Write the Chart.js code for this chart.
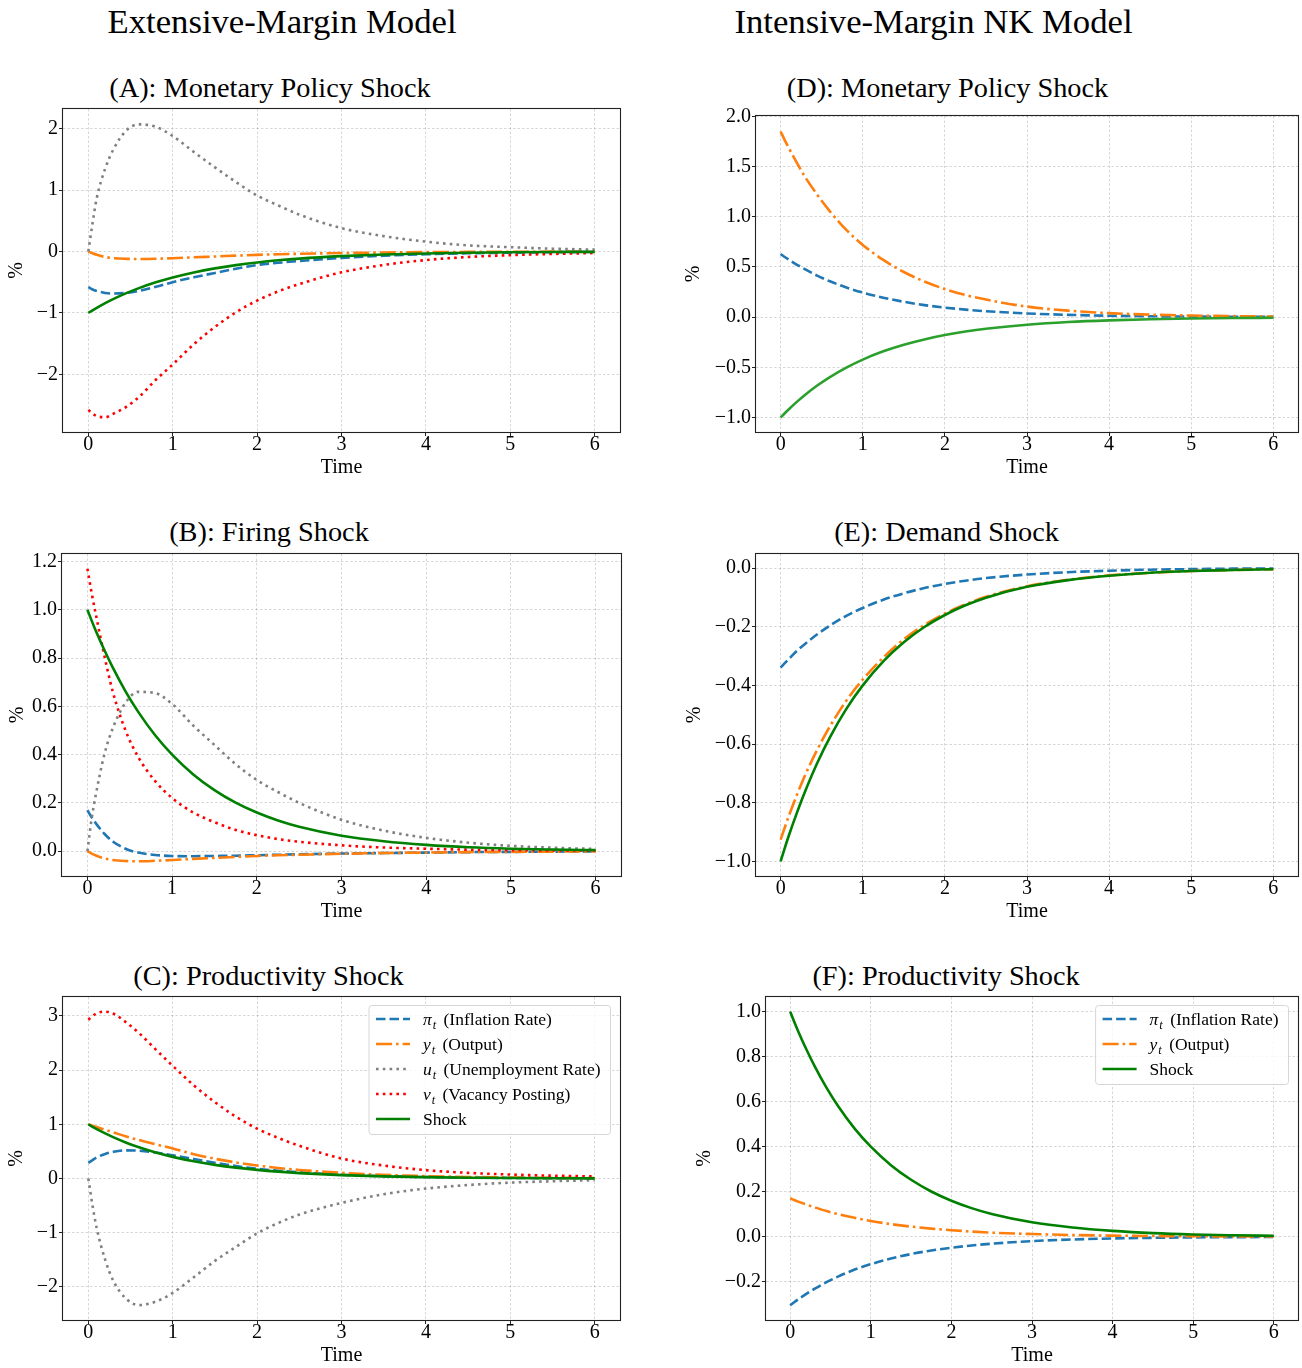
<!DOCTYPE html>
<html>
<head>
<meta charset="utf-8">
<title>Impulse responses</title>
<script src="https://cdn.jsdelivr.net/npm/chart.js@4.4.1/dist/chart.umd.min.js"></script>
<style>
  html, body { margin: 0; padding: 0; background: #fff; overflow: hidden; }
  #page { position: relative; width: 1302px; height: 1368px; }
  #page canvas { position: absolute; }
  #titles { position: absolute; left: 0; top: 0; }
  #titles text { font-family: "Liberation Serif", "Times New Roman", serif; fill: #000; }
</style>
</head>
<body>
<div id="page">
  <svg id="titles" width="1302" height="1368">
    <text x="282" y="33" font-size="34.7" text-anchor="middle">Extensive-Margin Model</text>
    <text x="933.5" y="33" font-size="34.7" text-anchor="middle">Intensive-Margin NK Model</text>
    <text x="270" y="97" font-size="28.3" text-anchor="middle">(A): Monetary Policy Shock</text>
    <text x="947.5" y="97" font-size="28.3" text-anchor="middle">(D): Monetary Policy Shock</text>
    <text x="269" y="541" font-size="28.3" text-anchor="middle">(B): Firing Shock</text>
    <text x="946.5" y="541" font-size="28.3" text-anchor="middle">(E): Demand Shock</text>
    <text x="268.5" y="985" font-size="28.3" text-anchor="middle">(C): Productivity Shock</text>
    <text x="946" y="985" font-size="28.3" text-anchor="middle">(F): Productivity Shock</text>
  </svg>
</div>
<script>
const timeGrid = [0, 0.05, 0.1, 0.2, 0.3, 0.45, 0.6, 0.8, 1, 1.25, 1.5, 1.75, 2, 2.25, 2.5, 3, 3.5, 4, 4.5, 5, 5.5, 6];

// (A) extensive margin, monetary policy shock
const monPiA    = [-0.58, -0.62, -0.645, -0.675, -0.685, -0.675, -0.64, -0.575, -0.50, -0.42, -0.35, -0.28, -0.22, -0.185, -0.155, -0.105, -0.07, -0.045, -0.03, -0.02, -0.012, -0.008];
const monYA     = [0, -0.03, -0.055, -0.09, -0.11, -0.12, -0.122, -0.118, -0.11, -0.095, -0.082, -0.068, -0.055, -0.046, -0.038, -0.026, -0.017, -0.011, -0.007, -0.005, -0.003, -0.002];
const monUA     = [0, 0.46, 0.87, 1.35, 1.67, 1.97, 2.07, 2.03, 1.88, 1.62, 1.37, 1.13, 0.91, 0.75, 0.60, 0.38, 0.25, 0.16, 0.10, 0.07, 0.045, 0.03];
const monVA     = [-2.58, -2.64, -2.68, -2.70, -2.64, -2.53, -2.37, -2.09, -1.84, -1.51, -1.23, -0.99, -0.80, -0.65, -0.53, -0.34, -0.22, -0.14, -0.09, -0.06, -0.04, -0.025];
const monShockA = [-1, -0.958, -0.918, -0.842, -0.773, -0.679, -0.597, -0.503, -0.423, -0.341, -0.275, -0.222, -0.179, -0.144, -0.116, -0.076, -0.049, -0.032, -0.021, -0.014, -0.009, -0.006];

// (B) extensive margin, firing shock
const firePiB    = [0.17, 0.14, 0.115, 0.072, 0.04, 0.01, -0.006, -0.016, -0.02, -0.021, -0.02, -0.019, -0.017, -0.015, -0.013, -0.01, -0.008, -0.006, -0.004, -0.003, -0.002, -0.001];
const fireYB     = [0, -0.01, -0.018, -0.03, -0.037, -0.041, -0.042, -0.04, -0.037, -0.032, -0.028, -0.024, -0.02, -0.017, -0.015, -0.011, -0.008, -0.006, -0.004, -0.003, -0.002, -0.001];
const fireUB     = [0, 0.135, 0.235, 0.40, 0.51, 0.615, 0.66, 0.655, 0.61, 0.52, 0.44, 0.36, 0.295, 0.245, 0.20, 0.13, 0.085, 0.055, 0.035, 0.022, 0.014, 0.009];
const fireVB     = [1.17, 1.07, 0.98, 0.81, 0.66, 0.50, 0.39, 0.29, 0.22, 0.16, 0.12, 0.088, 0.066, 0.05, 0.039, 0.024, 0.015, 0.01, 0.006, 0.004, 0.003, 0.002];
const fireShockB = [1, 0.955, 0.912, 0.833, 0.76, 0.662, 0.577, 0.48, 0.40, 0.318, 0.253, 0.201, 0.160, 0.127, 0.101, 0.064, 0.041, 0.026, 0.016, 0.010, 0.0065, 0.004];

// (C) extensive margin, productivity shock
const prodPiC    = [0.29, 0.34, 0.39, 0.455, 0.495, 0.52, 0.515, 0.48, 0.43, 0.36, 0.29, 0.23, 0.18, 0.145, 0.115, 0.07, 0.045, 0.028, 0.018, 0.011, 0.007, 0.005];
const prodYC     = [1.0, 0.975, 0.95, 0.9, 0.85, 0.775, 0.71, 0.63, 0.555, 0.45, 0.365, 0.297, 0.24, 0.195, 0.159, 0.105, 0.069, 0.045, 0.03, 0.02, 0.013, 0.008];
const prodUC     = [0, -0.5, -0.92, -1.5, -1.9, -2.22, -2.335, -2.27, -2.11, -1.82, -1.52, -1.26, -1.01, -0.82, -0.665, -0.45, -0.29, -0.185, -0.12, -0.075, -0.05, -0.03];
const prodVC     = [2.93, 3.0, 3.05, 3.08, 3.04, 2.88, 2.685, 2.38, 2.08, 1.72, 1.41, 1.14, 0.92, 0.75, 0.605, 0.37, 0.24, 0.155, 0.105, 0.074, 0.053, 0.04];
const prodShockC = [1, 0.955, 0.912, 0.833, 0.76, 0.662, 0.577, 0.48, 0.40, 0.318, 0.253, 0.201, 0.160, 0.127, 0.101, 0.064, 0.041, 0.026, 0.016, 0.010, 0.0065, 0.004];

// (D) NK model, monetary policy shock
const monPiD    = [0.63, 0.60, 0.573, 0.522, 0.475, 0.412, 0.357, 0.296, 0.245, 0.194, 0.153, 0.12, 0.095, 0.075, 0.059, 0.037, 0.023, 0.014, 0.009, 0.0056, 0.0035, 0.002];
const monYD     = [1.85, 1.765, 1.685, 1.535, 1.395, 1.215, 1.055, 0.87, 0.72, 0.57, 0.45, 0.355, 0.28, 0.22, 0.175, 0.105, 0.065, 0.04, 0.025, 0.016, 0.01, 0.006];
const monShockD = [-1, -0.958, -0.918, -0.842, -0.773, -0.679, -0.597, -0.503, -0.423, -0.341, -0.275, -0.222, -0.179, -0.144, -0.116, -0.076, -0.049, -0.032, -0.021, -0.014, -0.009, -0.006];

// (E) NK model, demand shock
const demPiE    = [-0.339, -0.324, -0.31, -0.282, -0.258, -0.225, -0.196, -0.163, -0.136, -0.108, -0.086, -0.068, -0.054, -0.043, -0.034, -0.022, -0.014, -0.009, -0.0055, -0.0035, -0.002, -0.0014];
const demYE     = [-0.926, -0.885, -0.845, -0.772, -0.705, -0.617, -0.54, -0.452, -0.38, -0.305, -0.243, -0.194, -0.155, -0.124, -0.098, -0.062, -0.04, -0.025, -0.016, -0.01, -0.0065, -0.004];
const demShockE = [-1, -0.955, -0.912, -0.833, -0.76, -0.662, -0.577, -0.48, -0.40, -0.318, -0.253, -0.201, -0.160, -0.127, -0.101, -0.064, -0.041, -0.026, -0.016, -0.010, -0.0065, -0.004];

// (F) NK model, productivity shock
const prodPiF    = [-0.305, -0.291, -0.278, -0.254, -0.232, -0.202, -0.176, -0.146, -0.122, -0.097, -0.077, -0.061, -0.049, -0.039, -0.031, -0.0195, -0.0124, -0.0078, -0.005, -0.003, -0.002, -0.0012];
const prodYF     = [0.171, 0.163, 0.156, 0.143, 0.131, 0.114, 0.100, 0.084, 0.070, 0.056, 0.045, 0.036, 0.029, 0.023, 0.018, 0.012, 0.0075, 0.0048, 0.003, 0.002, 0.0013, 0.0008];
const prodShockF = [1, 0.955, 0.912, 0.833, 0.76, 0.662, 0.577, 0.48, 0.40, 0.318, 0.253, 0.201, 0.160, 0.127, 0.101, 0.064, 0.041, 0.026, 0.016, 0.010, 0.0065, 0.004];

// tick labels
const xTickValues = [0, 1, 2, 3, 4, 5, 6];
const yTicksA = [-2, -1, 0, 1, 2];
const yTicksB = [0, 0.2, 0.4, 0.6, 0.8, 1.0, 1.2];
const yTicksC = [-2, -1, 0, 1, 2, 3];
const yTicksD = [-1, -0.5, 0, 0.5, 1, 1.5, 2];
const yTicksE = [-1, -0.8, -0.6, -0.4, -0.2, 0];
const yTicksF = [-0.2, 0, 0.2, 0.4, 0.6, 0.8, 1.0];

// legend names
const legendSymbols = { pi: "π", y: "y", u: "u", v: "v" };
const legendTexts = { pi: "(Inflation Rate)", y: "(Output)", u: "(Unemployment Rate)", v: "(Vacancy Posting)", shock: "Shock" };

const FONT = '"Liberation Serif", "Times New Roman", serif';
const GRID = "rgba(0,0,0,0.2)";
const LINE_W = 2.6;
const STYLES = {
  pi:    { color: "#1f77b4", dash: [9.5, 4] },
  y:     { color: "#ff7f0e", dash: [16, 4, 2.6, 4] },
  u:     { color: "#808080", dash: [2.6, 4.2] },
  v:     { color: "#ff0000", dash: [2.6, 4.2] },
  shock: { color: "#008000", dash: [] },
};

// plot boxes in page pixels: [left, top, right, bottom]
const PANELS = [
  { box: [63, 109, 620, 432], padL: 58, y: [-2.94, 2.32], yTicks: yTicksA, dec: 0, legend: false,
    series: [["pi", monPiA], ["y", monYA], ["u", monUA], ["v", monVA], ["shock", monShockA]] },
  { box: [61.5, 554, 620, 876], padL: 56, y: [-0.103, 1.231], yTicks: yTicksB, dec: 1, legend: false,
    series: [["pi", firePiB], ["y", fireYB], ["u", fireUB], ["v", fireVB], ["shock", fireShockB]] },
  { box: [63, 997, 620, 1320], padL: 58, y: [-2.61, 3.35], yTicks: yTicksC, dec: 0, legend: true,
    series: [["pi", prodPiC], ["y", prodYC], ["u", prodUC], ["v", prodVC], ["shock", prodShockC]] },
  { box: [756, 116, 1298, 432], padL: 74, y: [-1.145, 2.005], yTicks: yTicksD, dec: 1, legend: false,
    series: [["pi", monPiD], ["y", monYD], ["shock", monShockD, "#2ca02c"]] },
  { box: [756, 554, 1298, 876], padL: 73, y: [-1.05, 0.048], yTicks: yTicksE, dec: 1, legend: false,
    series: [["pi", demPiE], ["y", demYE], ["shock", demShockE]] },
  { box: [766, 997, 1298, 1320], padL: 73, y: [-0.37, 1.065], yTicks: yTicksF, dec: 1, legend: true,
    series: [["pi", prodPiF], ["y", prodYF], ["shock", prodShockF]] },
];

function fmt(v, dec) {
  return (v < 0 ? "\u2212" : "") + Math.abs(v).toFixed(dec);
}

function drawLegend(chart) {
  const { ctx, chartArea: a } = chart;
  const items = chart.data.datasets;
  const fs = 17.5;
  const fMain = fs + "px " + FONT, fIt = "italic " + fs + "px " + FONT, fSub = "italic " + (fs * 0.7) + "px " + FONT;
  const symGap = 3;
  ctx.save();
  const widths = items.map(ds => {
    const k = ds.legendKey;
    if (k === "shock") { ctx.font = fMain; return ctx.measureText(legendTexts.shock).width; }
    ctx.font = fIt; let w = ctx.measureText(legendSymbols[k]).width + 1;
    ctx.font = fSub; w += ctx.measureText("t").width + symGap;
    ctx.font = fMain; w += ctx.measureText(" " + legendTexts[k]).width;
    return w;
  });
  const rowH = 25;
  const bw = 54 + Math.max(...widths) + 10;
  const bh = items.length * rowH + 4;
  const right = a.right - 9.5, top = a.top + 8.5, left = right - bw;

  ctx.beginPath();
  if (ctx.roundRect) ctx.roundRect(left, top, bw, bh, 3); else ctx.rect(left, top, bw, bh);
  ctx.fillStyle = "rgba(255,255,255,0.8)";
  ctx.fill();
  ctx.strokeStyle = "#d6d6d6";
  ctx.lineWidth = 1;
  ctx.stroke();

  items.forEach((ds, i) => {
    const cy = top + 13.5 + i * rowH;
    ctx.beginPath();
    ctx.setLineDash(ds.borderDash);
    ctx.strokeStyle = ds.borderColor;
    ctx.lineWidth = ds.borderWidth;
    ctx.moveTo(left + 7, cy);
    ctx.lineTo(left + 41, cy);
    ctx.stroke();
    ctx.setLineDash([]);

    ctx.fillStyle = "#000";
    ctx.textAlign = "left";
    ctx.textBaseline = "alphabetic";
    const base = cy + 6;
    let x = left + 54;
    const k = ds.legendKey;
    if (k === "shock") {
      ctx.font = fMain;
      ctx.fillText(legendTexts.shock, x, base);
    } else {
      ctx.font = fIt;
      ctx.fillText(legendSymbols[k], x, base);
      x += ctx.measureText(legendSymbols[k]).width + 1;
      ctx.font = fSub;
      ctx.fillText("t", x, base + 4);
      x += ctx.measureText("t").width + symGap;
      ctx.font = fMain;
      ctx.fillText(" " + legendTexts[k], x, base);
    }
  });
  ctx.restore();
}

// full box round the axes, plus the legend
const framePlugin = {
  id: "mplFrame",
  afterDraw(chart, args, opts) {
    const { ctx, chartArea: a } = chart;
    ctx.save();
    ctx.strokeStyle = "#222";
    ctx.lineWidth = 1.1;
    ctx.strokeRect(Math.round(a.left) - 0.5, Math.round(a.top) - 0.5, Math.round(a.right - a.left) + 1, Math.round(a.bottom - a.top) + 1);
    ctx.restore();
    if (opts.legend) drawLegend(chart);
  }
};

function buildPanel(p) {
  const [L, T, R, B] = p.box;
  const padT = 20, padR = 6, padB = 48;
  const cv = document.createElement("canvas");
  cv.width = Math.round(R - L + p.padL + padR);
  cv.height = Math.round(B - T + padT + padB);
  cv.style.left = (L - p.padL) + "px";
  cv.style.top = (T - padT) + "px";
  document.getElementById("page").appendChild(cv);

  const n = p.series.length;
  const datasets = p.series.map(([key, values, colour], i) => ({
    label: key,
    legendKey: key,
    data: timeGrid.map((t, j) => ({ x: t, y: values[j] })),
    borderColor: colour || STYLES[key].color,
    borderWidth: LINE_W,
    borderDash: STYLES[key].dash,
    pointRadius: 0,
    cubicInterpolationMode: "monotone",
    fill: false,
    order: n - 1 - i,
  }));

  const tickFont = { family: FONT, size: 20, lineHeight: 1 };
  new Chart(cv, {
    type: "line",
    data: { datasets },
    options: {
      responsive: false,
      animation: false,
      events: [],
      layout: { padding: { left: 0, top: padT, right: padR, bottom: 0 } },
      plugins: {
        legend: { display: false },
        tooltip: { enabled: false },
        mplFrame: { legend: p.legend },
      },
      scales: {
        x: {
          type: "linear",
          min: -0.3, max: 6.3,
          bounds: "data",
          afterBuildTicks: s => { s.ticks = xTickValues.map(v => ({ value: v })); },
          afterFit: s => { s.height = padB; },
          ticks: { autoSkip: false, maxRotation: 0, padding: -1, color: "#000", font: tickFont, callback: v => fmt(v, 0) },
          grid: { color: GRID, lineWidth: 0.8, tickColor: "#222", tickLength: 4, tickWidth: 1 },
          border: { display: false, dash: [2.5, 2] },
          title: { display: true, text: "Time", color: "#000", font: { family: FONT, size: 20 }, padding: 0 },
        },
        y: {
          type: "linear",
          min: p.y[0], max: p.y[1],
          bounds: "data",
          afterBuildTicks: s => { s.ticks = p.yTicks.map(v => ({ value: v })); },
          afterFit: s => { s.width = p.padL; },
          ticks: { autoSkip: false, padding: 1, color: "#000", font: tickFont, callback: v => fmt(v, p.dec) },
          grid: { color: GRID, lineWidth: 0.8, tickColor: "#222", tickLength: 4, tickWidth: 1 },
          border: { display: false, dash: [2.5, 2] },
          title: { display: true, text: "%", color: "#000", font: { family: FONT, size: 20 }, padding: 0 },
        },
      },
    },
    plugins: [framePlugin],
  });
}

PANELS.forEach(buildPanel);
</script>
</body>
</html>
